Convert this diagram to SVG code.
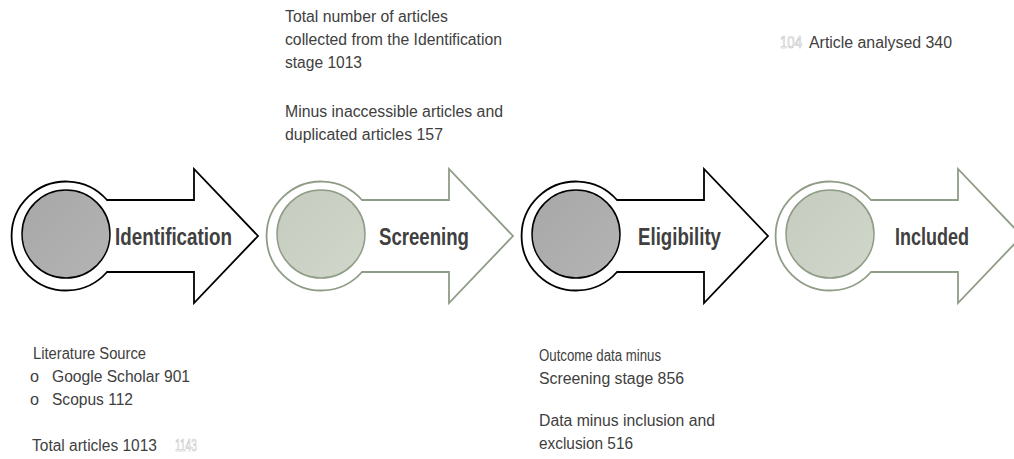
<svg xmlns="http://www.w3.org/2000/svg" width="1014" height="459" viewBox="0 0 1014 459">
<defs>
<linearGradient id="gGrey" x1="0" y1="0" x2="1" y2="1">
<stop offset="0" stop-color="#a7a7a7"/>
<stop offset="1" stop-color="#b4b4b4"/>
</linearGradient>
<linearGradient id="gGreen" x1="0" y1="0" x2="1" y2="1">
<stop offset="0" stop-color="#c5ccbf"/>
<stop offset="1" stop-color="#d1d7cb"/>
</linearGradient>
<path id="arrowShape" d="M107,200 L194,200 L194,169 L258,236 L194,303 L194,272 L107,272 A54.5,54.5 0 1 1 107,200 Z"/>
</defs>
<style>
.dark .outline{fill:#fff;stroke:#000;stroke-width:1.8}
.dark .core{fill:url(#gGrey);stroke:#000;stroke-width:1.5}
.green .outline{fill:#fff;stroke:#8f9c86;stroke-width:1.8}
.green .core{fill:url(#gGreen);stroke:#8f9c86;stroke-width:1.5}
.lbl{font-family:"Liberation Sans",Arial,sans-serif;font-weight:bold;font-size:23px;fill:#404040}
.txt{font-family:"Liberation Sans",Arial,sans-serif;font-size:16px;fill:#404040}
.ghost{fill:#fff;stroke:#c0c0c0;stroke-width:0.6}
</style>
<g id="connectors"></g>
<g id="identification" class="dark">
<use href="#arrowShape" class="outline"/>
<circle class="core" cx="66" cy="234" r="44"/>
<text class="lbl" x="115" y="245" textLength="117" lengthAdjust="spacingAndGlyphs">Identification</text>
</g>
<g id="screening" class="green" transform="translate(255,0)">
<use href="#arrowShape" class="outline"/>
<circle class="core" cx="66" cy="234" r="44"/>
<text class="lbl" x="124" y="245" textLength="90" lengthAdjust="spacingAndGlyphs">Screening</text>
</g>
<g id="eligibility" class="dark" transform="translate(510,0)">
<use href="#arrowShape" class="outline"/>
<circle class="core" cx="66" cy="234" r="44"/>
<text class="lbl" x="128" y="245" textLength="83" lengthAdjust="spacingAndGlyphs">Eligibility</text>
</g>
<g id="included" class="green" transform="translate(764,0)">
<use href="#arrowShape" class="outline"/>
<circle class="core" cx="66" cy="234" r="44"/>
<text class="lbl" x="131" y="245" textLength="74" lengthAdjust="spacingAndGlyphs">Included</text>
</g>
<g id="screening-notes">
<text class="txt" x="285" y="22" textLength="163" lengthAdjust="spacingAndGlyphs">Total number of articles</text>
<text class="txt" x="285" y="45" textLength="217" lengthAdjust="spacingAndGlyphs">collected from the Identification</text>
<text class="txt" x="285" y="68" textLength="77" lengthAdjust="spacingAndGlyphs">stage 1013</text>
<text class="txt" x="285" y="117" textLength="218" lengthAdjust="spacingAndGlyphs">Minus inaccessible articles and</text>
<text class="txt" x="285" y="140" textLength="158" lengthAdjust="spacingAndGlyphs">duplicated articles 157</text>
</g>
<g id="included-notes">
<text class="txt ghost" x="780" y="48" textLength="22" lengthAdjust="spacingAndGlyphs">104</text>
<text class="txt" x="809" y="48" textLength="143" lengthAdjust="spacingAndGlyphs">Article analysed 340</text>
</g>
<g id="identification-notes">
<text class="txt" x="33" y="359" textLength="113" lengthAdjust="spacingAndGlyphs">Literature Source</text>
<text class="txt" x="30" y="382" textLength="9" lengthAdjust="spacingAndGlyphs">o</text>
<text class="txt" x="52" y="382" textLength="138" lengthAdjust="spacingAndGlyphs">Google Scholar 901</text>
<text class="txt" x="30" y="405" textLength="9" lengthAdjust="spacingAndGlyphs">o</text>
<text class="txt" x="52" y="405" textLength="81" lengthAdjust="spacingAndGlyphs">Scopus 112</text>
<text class="txt" x="32" y="451" textLength="125" lengthAdjust="spacingAndGlyphs">Total articles 1013</text>
<text class="txt ghost" x="175" y="451" textLength="22" lengthAdjust="spacingAndGlyphs">1143</text>
</g>
<g id="eligibility-notes">
<text class="txt" x="539" y="361" textLength="122" lengthAdjust="spacingAndGlyphs">Outcome data minus</text>
<text class="txt" x="539" y="384" textLength="145" lengthAdjust="spacingAndGlyphs">Screening stage 856</text>
<text class="txt" x="539" y="426" textLength="176" lengthAdjust="spacingAndGlyphs">Data minus inclusion and</text>
<text class="txt" x="539" y="449" textLength="94" lengthAdjust="spacingAndGlyphs">exclusion 516</text>
</g>
</svg>
